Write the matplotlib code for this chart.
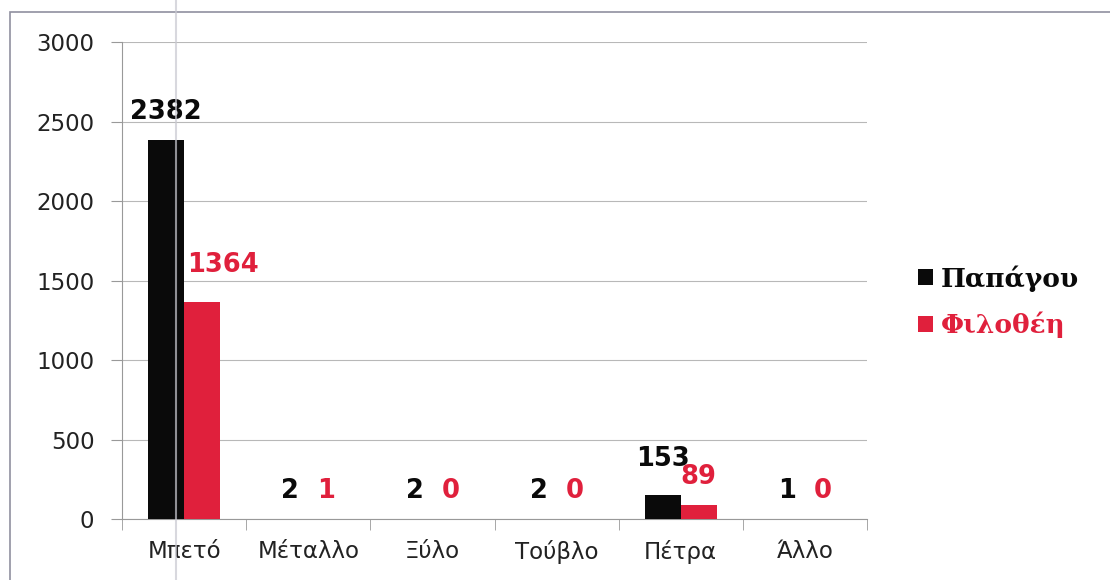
import matplotlib
matplotlib.use("Agg")
import matplotlib.pyplot as plt
from matplotlib.patches import Rectangle
from matplotlib.lines import Line2D
import numpy as np

categories = ["Μπετό", "Μέταλλο", "Ξύλο", "Τούβλο", "Πέτρα", "Άλλο"]
papagou = [2382, 2, 2, 2, 153, 1]
filothei = [1364, 1, 0, 0, 89, 0]
series_names = ["Παπάγου", "Φιλοθέη"]
yticks = [0, 500, 1000, 1500, 2000, 2500, 3000]

BLACK = "#0a0a0a"
RED = "#e0203c"

fig = plt.figure(figsize=(11.1, 5.8), dpi=100)
ax = fig.add_axes([0.110, 0.105, 0.671, 0.8226])

x = np.arange(len(categories))
w = 0.29
b1 = ax.bar(x - w / 2, papagou, width=w, color=BLACK, label=series_names[0], zorder=3)
b2 = ax.bar(x + w / 2, filothei, width=w, color=RED, label=series_names[1], zorder=3)

for si, (rects, vals, col) in enumerate(((b1, papagou, BLACK), (b2, filothei, RED))):
    for i, (r, v) in enumerate(zip(rects, vals)):
        dx, dy = 0, 20
        if si == 0 and 50 < filothei[i] < 500:
            dy = 26  # lift to clear the neighbouring red label
        if si == 1 and v > 1000:
            dx, dy = 15, 27
        ax.annotate(str(v), (r.get_x() + r.get_width() / 2, r.get_height()),
                    xytext=(dx, dy), textcoords="offset points",
                    ha="center", va="center", fontsize=18.5, fontweight="bold",
                    color=col, family="DejaVu Sans", zorder=5)

ax.set_xlim(-0.5, len(categories) - 0.5)
ax.set_ylim(0, 3000)
ax.set_yticks(yticks)
ax.set_yticklabels([str(t) for t in yticks], fontsize=16.5, color="#222222")
ax.set_xticks(x)
ax.set_xticklabels(categories, fontsize=16.5, color="#222222")
ax.set_xticks(np.arange(-0.5, len(categories), 1), minor=True)
ax.tick_params(axis="x", which="major", length=0, pad=15)
ax.tick_params(axis="x", which="minor", length=8, color="#999999", direction="out")
ax.tick_params(axis="y", length=8, color="#999999", direction="out", pad=12)

ax.grid(axis="y", color="#b8b8b8", linewidth=0.8, zorder=0)
for s in ("top", "right"):
    ax.spines[s].set_visible(False)
ax.spines["left"].set_color("#999999")
ax.spines["bottom"].set_color("#999999")

leg = fig.legend(handles=[b1, b2], labels=series_names, loc="center left",
                 bbox_to_anchor=(0.806, 0.48), frameon=False,
                 prop={"family": "DejaVu Serif", "weight": "bold", "size": 19},
                 handlelength=0.55, handleheight=0.55, handletextpad=0.3,
                 labelspacing=0.75)
for t, c in zip(leg.get_texts(), (BLACK, RED)):
    t.set_color(c)

fig.add_artist(Rectangle((0.009, -0.01), 1.0, 0.99, transform=fig.transFigure,
                         fill=False, edgecolor="#9090a0", linewidth=1.2))
fig.add_artist(Line2D([176 / 1110, 176 / 1110], [0, 1], transform=fig.transFigure,
                      color="#c8c8d0", linewidth=1.5, alpha=0.7, zorder=10))

fig.savefig("out.png", dpi=100)
